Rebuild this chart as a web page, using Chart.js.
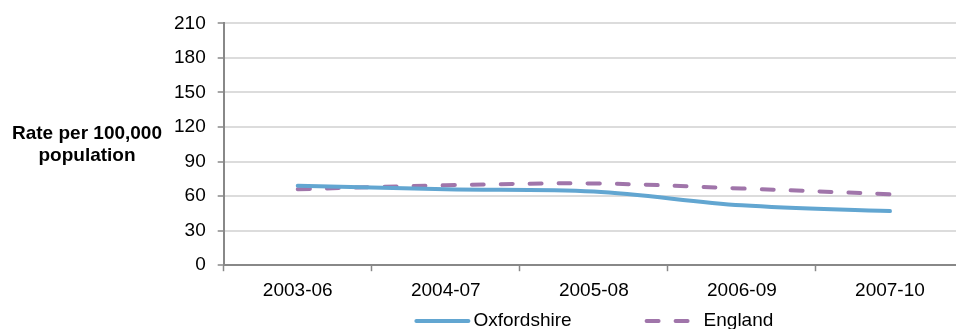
<!DOCTYPE html>
<html>
<head>
<meta charset="utf-8">
<title>Rate per 100,000 population</title>
<script src="https://cdn.jsdelivr.net/npm/chart.js@4.4.1/dist/chart.umd.min.js"></script>
<style>
  html, body { margin: 0; padding: 0; background: #ffffff; overflow: hidden; }
  #wrap { position: relative; width: 970px; height: 329px; }
</style>
</head>
<body>
<div id="wrap"><canvas id="chart"></canvas></div>
<script>
// Periods on the x axis
const periods = ['2003-06', '2004-07', '2005-08', '2006-09', '2007-10'];
// Rates per 100,000 population
const oxfordshire = [69, 66, 64, 52, 47];
const england = [66, 69.4, 71, 66.6, 61.7];
// Y axis range and step
const yTicks = [0, 30, 60, 90, 120, 150, 180, 210];
const yTitleLines = ['Rate per 100,000', 'population'];

const FONT = "'Liberation Sans', Arial, sans-serif";
const AXIS_GREY = '#888888';
const GRID_GREY = '#dcdcdc';

// Two-line horizontal title to the left of the value axis
const yTitlePlugin = {
  id: 'yTitle',
  afterDraw(chart) {
    const { ctx, chartArea, scales } = chart;
    const cx = scales.y.left / 2 + 6;
    const cy = (chartArea.top + chartArea.bottom) / 2;
    const lh = 22;
    ctx.save();
    ctx.font = `bold 19px ${FONT}`;
    ctx.fillStyle = '#000000';
    ctx.textAlign = 'center';
    ctx.textBaseline = 'middle';
    yTitleLines.forEach((t, i) => {
      ctx.fillText(t, cx, cy + (i - (yTitleLines.length - 1) / 2) * lh);
    });
    ctx.restore();
  }
};

// Line-sample legend under the plot, centred on the plot area
const lineLegendPlugin = {
  id: 'lineLegend',
  afterDraw(chart) {
    const { ctx, chartArea } = chart;
    const sampleW = 56, textGap = 3, itemGap = 73;
    ctx.save();
    ctx.font = `19px ${FONT}`;
    const items = chart.data.datasets.map(ds => ({
      ds, w: sampleW + textGap + ctx.measureText(ds.label).width
    }));
    const total = items.reduce((s, it) => s + it.w, 0) + itemGap * (items.length - 1);
    let x = (chartArea.left + chartArea.right) / 2 - total / 2;
    const y = chart.height - 8;
    items.forEach(({ ds, w }) => {
      ctx.save();
      ctx.strokeStyle = ds.borderColor;
      ctx.lineWidth = ds.borderWidth;
      ctx.lineCap = ds.borderCapStyle || 'butt';
      ctx.setLineDash(ds.borderDash || []);
      ctx.beginPath();
      const inset = ds.borderWidth / 2;
      ctx.moveTo(x + inset, y);
      ctx.lineTo(x + sampleW - inset, y);
      ctx.stroke();
      ctx.restore();
      ctx.fillStyle = '#000000';
      ctx.textAlign = 'left';
      ctx.textBaseline = 'middle';
      ctx.fillText(ds.label, x + sampleW + textGap, y);
      x += w + itemGap;
    });
    ctx.restore();
  }
};

new Chart(document.getElementById('chart'), {
  type: 'line',
  data: {
    labels: periods,
    datasets: [
      {
        label: 'Oxfordshire',
        data: oxfordshire,
        borderColor: '#62a6d1',
        borderWidth: 4,
        borderCapStyle: 'round',
        tension: 0.35,
        pointRadius: 0,
        fill: false
      },
      {
        label: 'England',
        data: england,
        borderColor: '#a075aa',
        borderWidth: 4,
        borderDash: [12, 17],
        borderCapStyle: 'round',
        tension: 0.35,
        pointRadius: 0,
        fill: false
      }
    ]
  },
  options: {
    responsive: true,
    maintainAspectRatio: false,
    animation: false,
    events: [],
    layout: { padding: { left: 162, right: 6, top: 18.5, bottom: 19 } },
    plugins: {
      legend: { display: false },
      tooltip: { enabled: false },
      title: { display: false }
    },
    scales: {
      x: {
        type: 'category',
        offset: true,
        border: { display: true, color: AXIS_GREY, width: 2 },
        grid: {
          offset: true,
          drawOnChartArea: false,
          drawTicks: true,
          tickLength: 6,
          tickColor: AXIS_GREY,
          tickWidth: 1.5
        },
        ticks: {
          color: '#000000',
          font: { family: FONT, size: 19 },
          padding: 8,
          maxRotation: 0
        }
      },
      y: {
        min: yTicks[0],
        max: yTicks[yTicks.length - 1],
        afterBuildTicks(scale) {
          scale.ticks = yTicks.map(v => ({ value: v }));
        },
        border: { display: true, color: AXIS_GREY, width: 2 },
        grid: {
          color: GRID_GREY,
          lineWidth: 2,
          drawTicks: true,
          tickLength: 6,
          tickColor: AXIS_GREY,
          tickWidth: 1.5
        },
        ticks: {
          color: '#000000',
          font: { family: FONT, size: 19 },
          padding: 12
        }
      }
    }
  },
  plugins: [yTitlePlugin, lineLegendPlugin]
});
</script>
</body>
</html>
